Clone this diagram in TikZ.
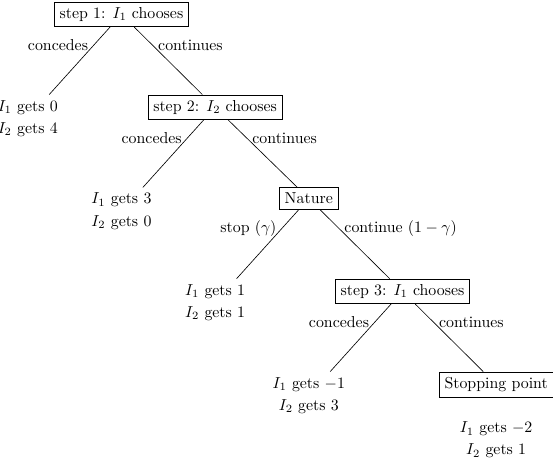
\documentclass[tikz,border=0pt]{standalone}
\usepackage{tikz}
\usepackage{amsmath, amssymb}
\usetikzlibrary{positioning}

\begin{document}
\begin{tikzpicture}[
  choice/.style={draw, rectangle},
  payoff/.style={align=center},
  every child node/.style={anchor=north},
  level/.style={sibling distance=118pt, level distance=50.5pt}
]
\useasboundingbox (-76.5pt,1.1pt) rectangle (271.8pt,-287.5pt);
\node[choice, anchor=north] (s1) {step 1: $I_1$ chooses}
  child {node[payoff] (p1) {$I_1$ gets $0$\\[2pt] $I_2$ gets $4$}
    edge from parent node[left, pos=.27] {concedes}
  }
  child {node[choice] (s2) {step 2: $I_2$ chooses}
    child {node[payoff] (p2) {$I_1$ gets $3$\\[2pt] $I_2$ gets $0$}
      edge from parent node[left, pos=.27] {concedes}
    }
    child {node[choice] (nat) {Nature}
      child {node[payoff] (p3) {$I_1$ gets $1$\\[2pt] $I_2$ gets $1$}
        edge from parent node[left, pos=.27] {stop ($\gamma$)}
      }
      child {node[choice] (s3) {step 3: $I_1$ chooses}
        child {node[payoff] (p4) {$I_1$ gets $-1$\\[2pt] $I_2$ gets $3$}
          edge from parent node[left, pos=.27] {concedes}
        }
        child {node[choice] (stop) {Stopping point}
          edge from parent node[right, pos=.27] {continues}
        }
        edge from parent node[right, pos=.27] {continue ($1-\gamma$)}
      }
      edge from parent node[right, pos=.27] {continues}
    }
    edge from parent node[right, pos=.27] {continues}
  };
\node[payoff, below=12pt of stop] (p5) {$I_1$ gets $-2$\\[2pt] $I_2$ gets $1$};
\end{tikzpicture}
\end{document}
